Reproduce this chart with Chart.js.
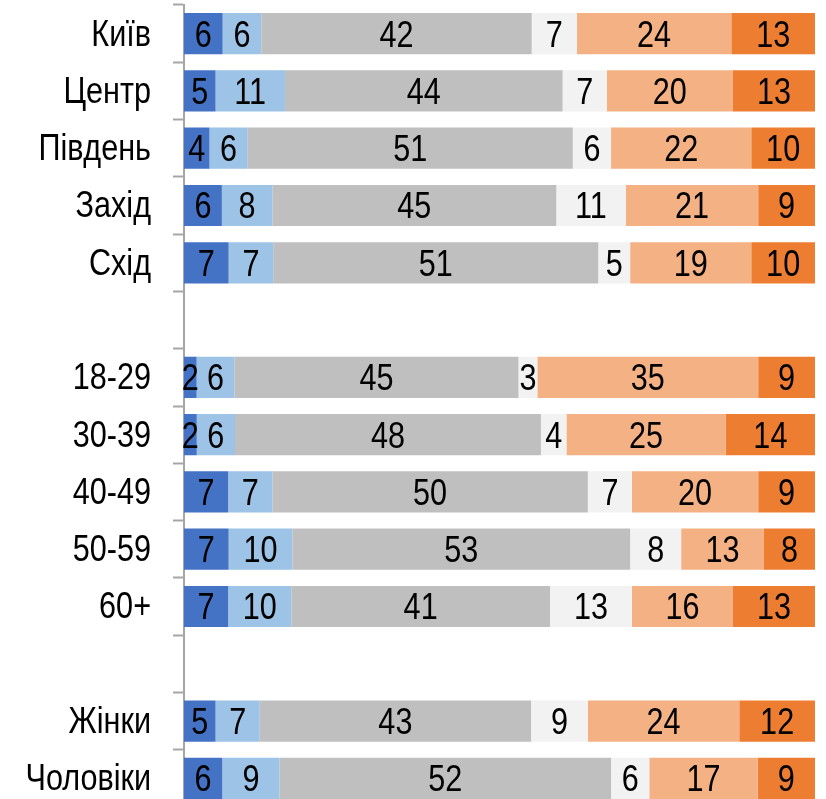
<!DOCTYPE html>
<html>
<head>
<meta charset="utf-8">
<script src="https://cdn.jsdelivr.net/npm/chart.js@4"></script>
<style>
  html, body { margin: 0; padding: 0; background: #fff; overflow: hidden; }
  #wrap { width: 826px; height: 812px; position: relative; }
</style>
</head>
<body>
<div id="wrap"><canvas id="regionChart"></canvas></div>
<script>
// rows of the chart; empty strings are spacer rows between groups
const categories = ["Київ", "Центр", "Південь", "Захід", "Схід", "",
    "18-29", "30-39", "40-49", "50-59", "60+", "",
    "Жінки", "Чоловіки"];

// answer shares per row, left to right
const series1 = [6, 5, 4, 6, 7, null, 2, 2, 7, 7, 7, null, 5, 6];
const series2 = [6, 11, 6, 8, 7, null, 6, 6, 7, 10, 10, null, 7, 9];
const series3 = [42, 44, 51, 45, 51, null, 45, 48, 50, 53, 41, null, 43, 52];
const series4 = [7, 7, 6, 11, 5, null, 3, 4, 7, 8, 13, null, 9, 6];
const series5 = [24, 20, 22, 21, 19, null, 35, 25, 20, 13, 16, null, 24, 17];
const series6 = [13, 13, 10, 9, 10, null, 9, 14, 9, 8, 13, null, 12, 9];

const allSeries = [series1, series2, series3, series4, series5, series6];
const colors = ["#4472C4", "#9DC3E6", "#BFBFBF", "#F2F2F2", "#F4B183", "#ED7D31"];

// narrow look: regular sans squeezed horizontally
const FONT = "'Liberation Sans', Arial, sans-serif";
const FONT_SIZE = 36;
const SQUEEZE = 0.85;

// 100% stacked: every row is scaled to its own total
const totals = categories.map((c, i) =>
    allSeries.reduce((s, arr) => s + (arr[i] || 0), 0));

const datasets = allSeries.map((arr, k) => ({
    label: "s" + (k + 1),
    data: arr.map((v, i) => v == null ? null : v / totals[i] * 100),
    rawValues: arr,
    backgroundColor: colors[k],
    borderWidth: 0,
    categoryPercentage: 1,
    barPercentage: 0.72
}));

function narrowText(ctx, text, x, y, align) {
    ctx.save();
    ctx.translate(x, y);
    ctx.scale(SQUEEZE, 1);
    ctx.textAlign = align;
    ctx.fillText(text, 0, 0);
    ctx.restore();
}

// numbers in the segments and the row names on the left
const textLayer = {
    id: "textLayer",
    afterDatasetsDraw(chart) {
        const ctx = chart.ctx;
        const shift = FONT_SIZE * 0.358;
        ctx.save();
        ctx.fillStyle = "#000";
        ctx.font = FONT_SIZE + "px " + FONT;
        ctx.textBaseline = "alphabetic";
        chart.data.datasets.forEach((ds, k) => {
            const meta = chart.getDatasetMeta(k);
            meta.data.forEach((bar, i) => {
                const v = ds.rawValues[i];
                if (v == null) return;
                const p = bar.getCenterPoint();
                narrowText(ctx, String(v), p.x, p.y + shift, "center");
            });
        });
        const yScale = chart.scales.y;
        const labelRight = yScale.right - 11 - 22;
        chart.data.labels.forEach((name, i) => {
            if (!name) return;
            const y = yScale.getPixelForTick(i);
            narrowText(ctx, name, labelRight, y + shift - 1, "right");
        });
        ctx.restore();
    }
};

const ctx = document.getElementById("regionChart").getContext("2d");
new Chart(ctx, {
    type: "bar",
    data: { labels: categories, datasets: datasets },
    plugins: [textLayer],
    options: {
        indexAxis: "y",
        responsive: true,
        maintainAspectRatio: false,
        animation: false,
        layout: { padding: { top: 5, bottom: 5, left: 0, right: 11 } },
        plugins: {
            legend: { display: false },
            tooltip: { enabled: false }
        },
        scales: {
            x: {
                stacked: true,
                min: 0,
                max: 100,
                display: false
            },
            y: {
                stacked: true,
                afterFit(scale) { scale.width = 184; },
                border: { display: true, color: "#A6A6A6", width: 2 },
                grid: {
                    offset: true,
                    drawOnChartArea: false,
                    drawTicks: true,
                    tickLength: 11,
                    tickColor: "#A6A6A6",
                    tickWidth: 2
                },
                ticks: { display: false }
            }
        }
    }
});
</script>
</body>
</html>
